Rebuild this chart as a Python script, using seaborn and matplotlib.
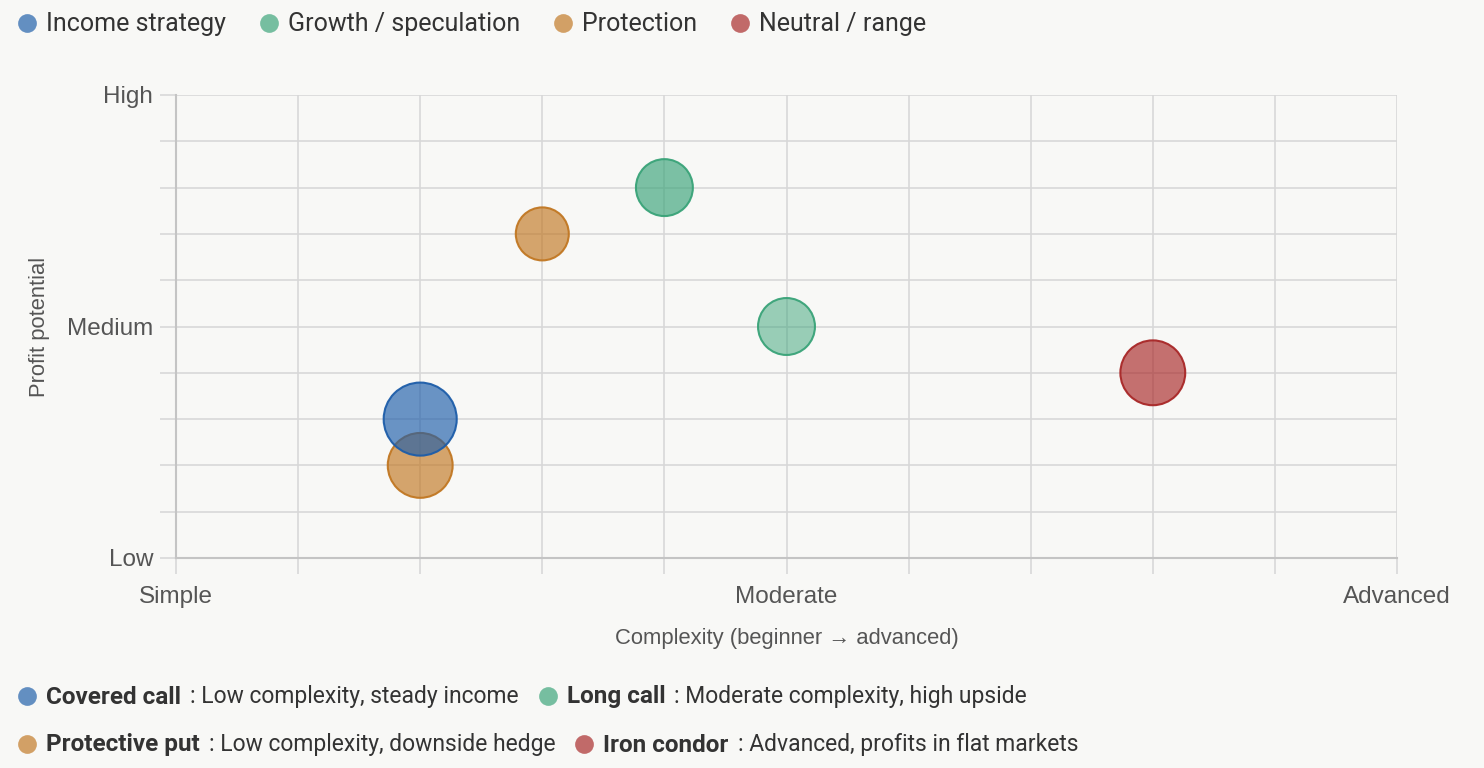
import matplotlib
matplotlib.use("Agg")
import matplotlib.pyplot as plt
import seaborn as sns
import pandas as pd
from matplotlib.lines import Line2D
from matplotlib.ticker import MultipleLocator
from matplotlib.colors import to_rgba

# bubble data (0-10 scales)
complexity = [2, 2, 3, 4, 5, 8]
profit = [2, 3, 7, 8, 5, 4]
category = ["Protection", "Income strategy", "Protection",
            "Growth / speculation", "Growth / speculation", "Neutral / range"]
weight = [79, 100, 53, 61, 61, 79]

groups = ["Income strategy", "Growth / speculation", "Protection", "Neutral / range"]
group_colors = ["#1d5da9", "#39a378", "#c17722", "#a82727"]
opacity = [0.65, 0.65, 0.65, 0.65, 0.5, 0.65]

x_ticks = [0, 5, 10]
x_labels = ["Simple", "Moderate", "Advanced"]
y_ticks = [0, 5, 10]
y_labels = ["Low", "Medium", "High"]

notes_name = ["Covered call", "Long call", "Protective put", "Iron condor"]
notes_text = ["Low complexity, steady income", "Moderate complexity, high upside",
              "Low complexity, downside hedge", "Advanced, profits in flat markets"]
notes_color = ["#1d5da9", "#39a378", "#c17722", "#a82727"]

df = pd.DataFrame({"complexity": complexity, "profit": profit,
                   "category": category, "weight": weight})
palette = dict(zip(groups, group_colors))

bg = "#f8f8f6"
grid_c = "#d8d8d8"
sns.set_theme(style="white")
plt.rcParams["font.family"] = ["Liberation Sans", "DejaVu Sans"]

fig = plt.figure(figsize=(14.84, 7.68), dpi=100, facecolor=bg)
ax = fig.add_axes([176 / 1484, 1 - 558 / 768, (1397 - 176) / 1484, (558 - 95) / 768])
ax.set_facecolor(bg)

sns.scatterplot(data=df, x="complexity", y="profit", hue="category", palette=palette,
                size="weight", sizes=(1456, 2766), legend=False, linewidth=1.5,
                ax=ax, zorder=3)
coll = ax.collections[0]
base = [palette[c] for c in category]
coll.set_facecolor([to_rgba(c, a) for c, a in zip(base, opacity)])
coll.set_edgecolor([to_rgba(c, 0.95) for c in base])

ax.set_xlim(0, 10)
ax.set_ylim(0, 10)
ax.set_xticks(x_ticks)
ax.set_xticklabels(x_labels)
ax.set_yticks(y_ticks)
ax.set_yticklabels(y_labels)
ax.xaxis.set_minor_locator(MultipleLocator(1))
ax.yaxis.set_minor_locator(MultipleLocator(1))
ax.grid(True, which="both", color=grid_c, linewidth=1.2, zorder=0)
ax.set_axisbelow(True)
ax.tick_params(which="both", bottom=True, left=True, length=11.5, width=1.2,
               color=grid_c, labelsize=17.5, labelcolor="#555555")
ax.tick_params(axis="x", which="major", pad=9)
ax.tick_params(axis="y", which="major", pad=5)
for s in ["top", "right"]:
    ax.spines[s].set_visible(False)
for s in ["left", "bottom"]:
    ax.spines[s].set_color("#c4c4c4")
    ax.spines[s].set_linewidth(1.5)

ax.set_xlabel("Complexity (beginner \u2192 advanced)", fontsize=15.8, color="#555555", labelpad=14)
ax.set_ylabel("Profit potential", fontsize=15.8, color="#555555", labelpad=12)

renderer = fig.canvas.get_renderer()
W, H = 1484, 768


def dot(x, y, color):
    fig.add_artist(Line2D([x / W], [1 - y / H], marker="o", markersize=13.5,
                          color=to_rgba(color, 0.68), markeredgewidth=0,
                          transform=fig.transFigure))


def put(x, y, s, **kw):
    t = fig.text(x / W, 1 - y / H, s, va="center", ha="left",
                 family=["Roboto", "DejaVu Sans"], color="#333333", **kw)
    return t.get_window_extent(renderer).x1


# top legend
x = 27
for g, c in zip(groups, group_colors):
    dot(x, 23, c)
    end = put(x + 19, 24, g, fontsize=18)
    x = end + 43

# bottom notes
rows = [[0, 1], [2, 3]]
for r, idx in enumerate(rows):
    y = 696 + 48 * r
    x = 27
    for i in idx:
        dot(x, y, notes_color[i])
        end = put(x + 19, y + 1, notes_name[i], fontsize=17.5, fontweight="bold")
        end = put(end + 9, y + 1, ": " + notes_text[i], fontsize=16.5)
        x = end + 29

fig.savefig("out.png", dpi=100, facecolor=bg)
